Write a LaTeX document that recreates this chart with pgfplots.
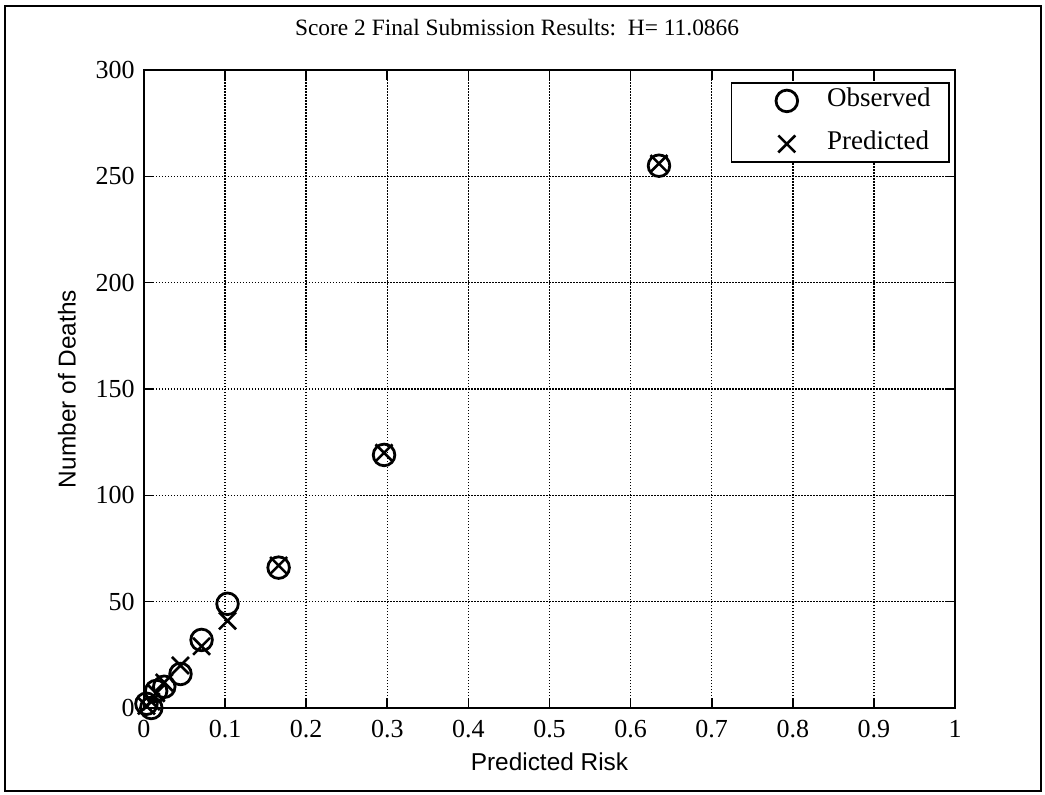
\documentclass[border=0pt]{standalone}
\usepackage{fontspec}
\setmainfont{Liberation Serif}
\newfontfamily\arial{Liberation Sans}
\usepackage{pgfplots}
\pgfplotsset{compat=1.18}
\begin{document}
\begin{tikzpicture}
\useasboundingbox (-72pt,-43pt) rectangle (450.5pt,354pt);
\draw[line width=0.8pt] (-69.5pt,-41.5pt) rectangle (448.5pt,351pt);
\begin{axis}[
  at={(0pt,0pt)}, anchor=south west,
  width=405.5pt, height=319pt, scale only axis,
  xmin=0, xmax=1, ymin=0, ymax=300,
  xtick={0,0.1,0.2,0.3,0.4,0.5,0.6,0.7,0.8,0.9,1},
  ytick={0,50,100,150,200,250,300},
  xticklabels={0,0.1,0.2,0.3,0.4,0.5,0.6,0.7,0.8,0.9,1},
  grid=major,
  major grid style={black, line width=0.75pt, dash pattern=on 0.75pt off 0.75pt},
  tick align=inside, tick pos=both, major tick length=5pt,
  tick style={black, line width=0.8pt},
  axis line style={line width=1.2pt},
  /pgf/number format/assume math mode=true,
  ticklabel style={font=\fontsize{13}{15}\selectfont},
  xticklabel style={yshift=-2.5pt},
  yticklabel style={xshift=-1.2pt},
  title={Score 2 Final Submission Results:\ \ H= 11.0866},
  title style={at={(axis description cs:0.46,1.047)}, anchor=center, font=\fontsize{11.7}{13}\selectfont},
  xlabel={Predicted Risk},
  ylabel={Number of Deaths},
  xlabel style={at={(axis description cs:0.5,-0.0846)}, anchor=center, font=\arial\fontsize{12.2}{14}\selectfont},
  ylabel style={at={(axis description cs:-0.095,0.5)}, anchor=center, rotate=0, font=\arial\fontsize{12.2}{14}\selectfont},
  legend style={at={(axis description cs:0.9938,0.981)}, anchor=north east, draw=black, line width=0.8pt,
    font=\fontsize{13.5}{15}\selectfont, inner xsep=5pt, inner ysep=3pt, row sep=9.5pt, column sep=0pt,
    nodes={inner sep=0pt, text height=9pt, text depth=3pt}},
  legend cell align=left,
  legend image code/.code={\path (-22pt,0pt) (19.5pt,0pt); \draw[#1] plot coordinates {(0pt,0pt)};},
]
\addplot[only marks, mark=o, mark size=5.4pt, line width=1.4pt, black] coordinates {
(0.003,2) (0.009,0) (0.015,8) (0.025,10) (0.045,16) (0.071,32) (0.103,49) (0.166,66) (0.296,119) (0.635,255)};
\addlegendentry{Observed}
\addplot[only marks, mark=x, mark size=6pt, line width=1.3pt, black] coordinates {
(0.003,1) (0.009,3) (0.015,7) (0.025,12) (0.045,20) (0.071,29) (0.103,41) (0.166,67) (0.296,120) (0.635,256)};
\addlegendentry{Predicted\kern5pt}
\end{axis}
\end{tikzpicture}
\end{document}
